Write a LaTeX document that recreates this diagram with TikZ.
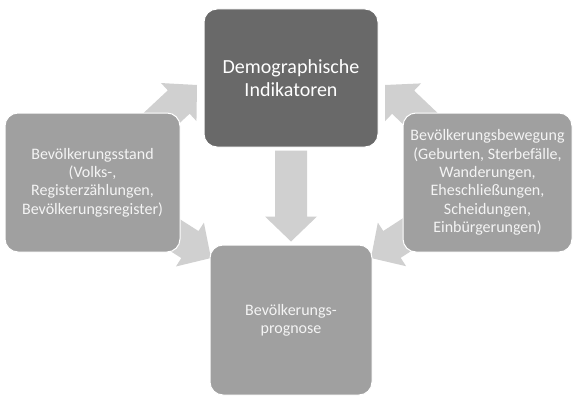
\documentclass[tikz,border=0pt]{standalone}
\usepackage{fontspec}
\setmainfont{Carlito}
\usetikzlibrary{calc,positioning}
\definecolor{darkfill}{HTML}{696969}
\definecolor{midfill}{HTML}{A0A0A0}
\definecolor{arrowfill}{HTML}{D0D0D0}
\definecolor{lighttext}{HTML}{F4F4F4}
\pgfdeclarelayer{bg}
\pgfsetlayers{bg,main}

% Helper: block arrow from #2 (tail) to #3 (tip), #1 = name prefix
\newcommand{\blockarrow}[3]{
    \coordinate (#1-h) at ($(#3)!25pt!(#2)$);
    \fill[blockfill]
        ($(#2)!16pt!90:(#3)$) -- ($(#1-h)!16pt!90:(#3)$)
        -- ($(#1-h)!26pt!90:(#3)$) -- (#3)
        -- ($(#1-h)!26pt!-90:(#3)$) -- ($(#1-h)!16pt!-90:(#3)$)
        -- ($(#2)!16pt!-90:(#3)$) -- cycle;
}

\begin{document}
\begin{tikzpicture}[
    x=1pt, y=-1pt,
    box/.style={rectangle, rounded corners=13pt, draw=white, line width=1pt,
                align=center, inner sep=0pt, text=lighttext},
    darkbox/.style={box, fill=darkfill, text=white,
                    font=\fontsize{20}{23}\selectfont},
    greybox/.style={box, fill=midfill, font=\fontsize{16}{18.3}\selectfont},
    blockfill/.style={fill=arrowfill},
]
\useasboundingbox (0,0) rectangle (573,396);

\def\bw{174}   % box width
\def\bh{138}   % box height

% ── Boxes ──
\node[darkbox, minimum width=\bw pt, minimum height=\bh pt] (demo) at (291,78)
    {Demographische\\Indikatoren};
\node[greybox, minimum width=175pt, minimum height=139pt] (stand) at (92.5,182.5)
    {Bevölkerungsstand\\(Volks-,\\Registerzählungen,\\Bevölkerungsregister)};
\node[greybox, minimum width=169pt, minimum height=139pt] (beweg) at (487.5,182.5)
    {Bevölkerungsbewegung\\(Geburten, Sterbefälle,\\Wanderungen,\\Eheschließungen,\\Scheidungen,\\Einbürgerungen)};
\node[greybox, minimum width=162pt, minimum height=150pt] (prog) at (291,320)
    {Bevölkerungs-\\prognose};

% ── Arrow ends ──
\coordinate (demo-out) at ($(demo.south)+(0,3)$);
\coordinate (tip-l) at (197,85);
\coordinate (tip-r) at (385,85);
\coordinate (tip-bl) at (211,258);
\coordinate (tip-br) at (371,258);
\coordinate (tip-b) at ($(prog.north)+(0,-3)$);

% ── Block arrows (behind the boxes) ──
\begin{pgfonlayer}{bg}
    \blockarrow{a1}{stand.center}{tip-l}
    \blockarrow{a2}{beweg.center}{tip-r}
    \blockarrow{a3}{stand.center}{tip-bl}
    \blockarrow{a4}{beweg.center}{tip-br}
    \blockarrow{a5}{demo-out}{tip-b}
\end{pgfonlayer}

\end{tikzpicture}
\end{document}
